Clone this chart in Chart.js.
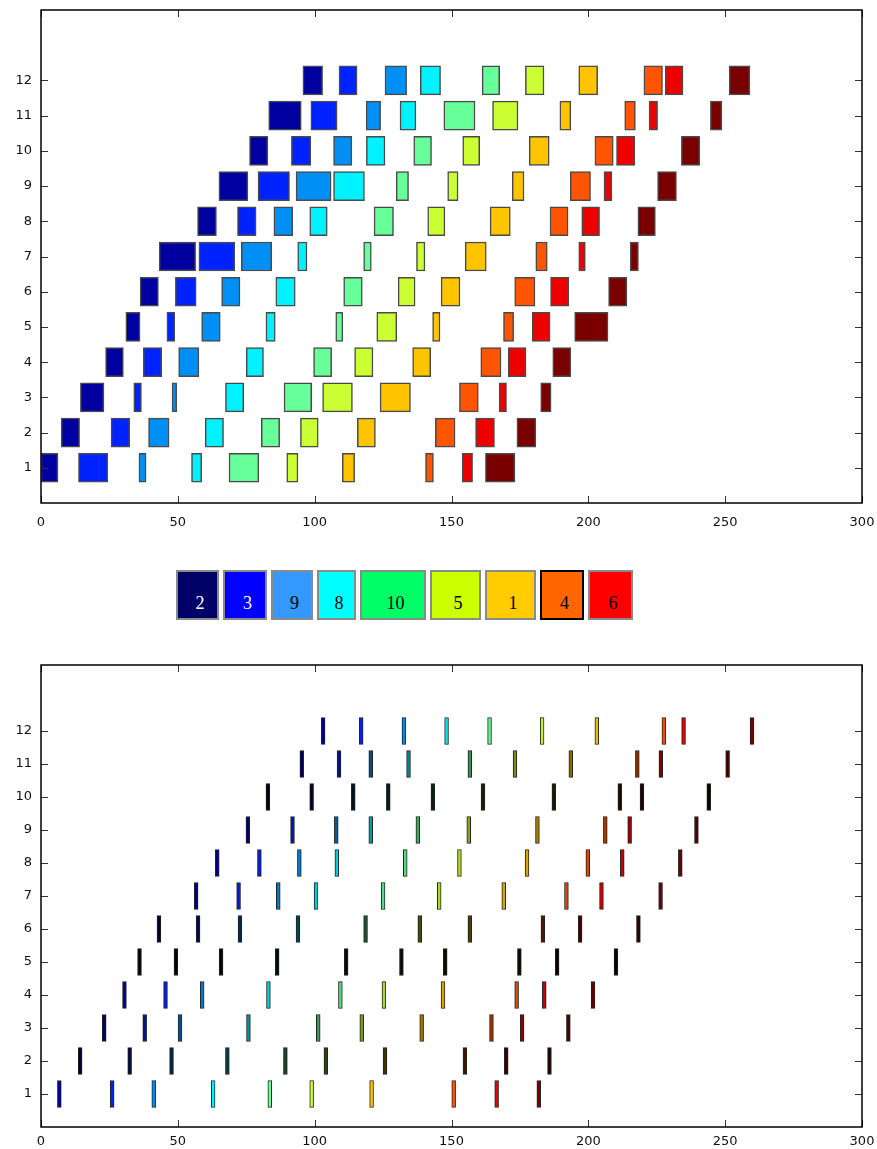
<!DOCTYPE html>
<html>
<head>
<meta charset="utf-8">
<script src="https://cdn.jsdelivr.net/npm/chart.js@4.4.1/dist/chart.umd.min.js"></script>
<style>
    body { margin: 0; background: #fff; }
    #lienzo { position: relative; width: 877px; height: 1149px; }
    canvas { position: absolute; left: 0; }
    #leyenda { position: absolute; left: 176px; top: 570px; display: flex; gap: 4px; }
    .caja {
        height: 50px; box-sizing: border-box; border: 2px solid #8a8a8a;
        font: 18px "Liberation Serif", "DejaVu Serif", serif;
        text-align: center; line-height: 62px; overflow: hidden; padding-left: 5px;
    }
</style>
</head>
<body>
<div id="lienzo">
    <canvas id="graficaArriba" width="877" height="540" style="top:0"></canvas>
    <div id="leyenda"></div>
    <canvas id="graficaAbajo" width="877" height="529" style="top:620px"></canvas>
</div>
<script>
//Filas (trabajos) y marcas de los ejes
const filas = [1, 2, 3, 4, 5, 6, 7, 8, 9, 10, 11, 12];
const ticksX = [0, 50, 100, 150, 200, 250, 300];

//Colores de las 10 operaciones de cada fila
const colores = ['#0000a0', '#0022ff', '#0090f5', '#00f2ff', '#66ff99',
                 '#ccff33', '#ffc400', '#ff5500', '#ee0000', '#7a0000'];

//Gráfica de arriba: [inicio, fin] de cada operación, una lista por fila
const barrasArriba = [
    [[0,6.2],[13.7,24.4],[35.8,38.4],[55,58.7],[68.7,79.6],[89.8,93.9],[110.1,114.6],[140.5,143.4],[153.9,157.7],[162.4,173.2]],
    [[7.4,14.1],[25.6,32.4],[39.3,46.8],[60,66.7],[80.5,87.2],[94.8,101.3],[115.6,122.2],[144.1,151.3],[158.8,165.7],[173.9,180.8]],
    [[14.4,23],[33.9,36.7],[47.9,49.6],[67.4,74.1],[88.8,98.9],[102.9,113.8],[123.9,135],[152.9,159.8],[167.4,170.1],[182.6,186.4]],
    [[23.6,30.1],[37.4,44.1],[50.3,57.7],[75,81.3],[99.6,106.2],[114.6,121.3],[135.8,142.4],[160.7,168.1],[170.7,177.2],[187,193.6]],
    [[31,36.2],[46,48.9],[58.7,65.5],[82.2,85.6],[107.7,110.3],[122.7,130],[143.1,145.8],[169,172.7],[179.5,186],[195,207.2]],
    [[36.2,42.9],[49.1,56.7],[66,72.7],[85.8,92.9],[110.6,117.4],[130.5,136.7],[146.2,153.1],[173.1,180.5],[186.2,192.9],[207.4,214.1]],
    [[43.2,56.5],[57.7,70.8],[73.2,84.3],[93.8,97.2],[117.9,120.7],[137.2,140.3],[155,162.7],[180.8,185],[196.5,198.9],[215.3,218.3]],
    [[57.2,64.1],[71.8,78.6],[85.1,92],[98.2,104.6],[121.7,128.8],[141.3,147.6],[164.1,171.5],[186,192.6],[197.6,204.1],[218.1,224.5]],
    [[65,75.6],[79.3,90.8],[93.2,106],[106.9,118.2],[129.8,134.3],[148.6,152.4],[172.2,176.5],[193.4,200.8],[205.7,208.6],[225.3,232.2]],
    [[76.2,82.9],[91.5,98.6],[106.9,113.6],[118.9,125.7],[136.2,142.7],[154.1,160.3],[178.4,185.7],[202.4,209.1],[210.3,217],[234,240.7]],
    [[83.2,95.1],[98.6,108.2],[118.8,124.1],[131.2,137],[147.2,158.6],[165,174.3],[189.6,193.6],[213.3,217.2],[222.2,225.3],[244.6,248.8]],
    [[95.7,102.9],[108.9,115.5],[125.7,133.6],[138.6,146],[161.2,167.6],[177,183.8],[196.5,203.4],[220.3,227.1],[228.1,234.6],[251.5,259]]
];

//Gráfica de abajo: centro de cada marca delgada, una lista por fila
const marcasAbajo = [
    [6.7, 26.0, 41.2, 62.9, 83.6, 98.9, 120.8, 150.8, 166.5, 181.9],
    [14.3, 32.4, 47.7, 68.1, 89.3, 104.1, 125.7, 154.9, 170.0, 185.8],
    [23.1, 37.9, 50.8, 75.8, 101.3, 117.2, 139.1, 164.6, 175.8, 192.7],
    [30.5, 45.5, 58.9, 83.1, 109.4, 125.3, 146.9, 173.8, 183.9, 201.7],
    [36.0, 49.3, 65.8, 86.3, 111.5, 131.7, 147.7, 174.8, 188.6, 210.1],
    [43.1, 57.4, 72.7, 93.9, 118.6, 138.4, 156.7, 183.4, 197.0, 218.3],
    [56.7, 72.2, 86.7, 100.5, 125.0, 145.5, 169.1, 192.0, 204.8, 226.4],
    [64.4, 79.8, 94.4, 108.1, 133.1, 152.9, 177.6, 199.8, 212.4, 233.6],
    [75.6, 91.9, 107.9, 120.5, 137.7, 156.3, 181.4, 206.2, 215.1, 239.5],
    [82.9, 98.9, 114.1, 126.9, 143.2, 161.5, 187.4, 211.5, 219.6, 244.0],
    [95.3, 108.9, 120.5, 134.3, 156.7, 173.2, 193.6, 217.9, 226.5, 250.9],
    [103.1, 117.0, 132.6, 148.2, 163.9, 183.1, 203.1, 227.6, 234.8, 259.8]
];

//Qué tan intenso se ve el color de las marcas en cada fila (1 = color pleno)
const intensidadFila = [1, 0.25, 0.6, 0.85, 0.05, 0.3, 0.85, 0.85, 0.65, 0.12, 0.55, 0.95];

//Leyenda del centro
const leyendaEtiquetas = ['2', '3', '9', '8', '10', '5', '1', '4', '6'];
const leyendaColores = ['#000066', '#0000ff', '#3399ff', '#00ffff', '#00ff66',
                        '#ccff00', '#ffcc00', '#ff6600', '#ff0000'];

//Estilos (no son datos)
const anchoMarca = 1.4;
const anchosCaja = [43, 44, 42, 39, 66, 51, 51, 44, 45];
const fuenteEjes = { family: 'DejaVu Sans', size: 13 };

//Oscurecer un color hex multiplicando por un factor
function oscurecer(hex, f) {
    const n = parseInt(hex.slice(1), 16);
    const r = Math.round(((n >> 16) & 255) * f);
    const g = Math.round(((n >> 8) & 255) * f);
    const b = Math.round((n & 255) * f);
    return `rgb(${r},${g},${b})`;
}

//Plugin para el marco y las marcas hacia adentro (estilo MATLAB)
const marcoPlugin = {
    id: 'marco',
    afterDraw(chart) {
        const { ctx, chartArea: a, scales } = chart;
        const linea = (x1, y1, x2, y2) => {
            ctx.beginPath(); ctx.moveTo(x1, y1); ctx.lineTo(x2, y2); ctx.stroke();
        };
        ctx.save();
        ctx.strokeStyle = '#333';
        ctx.lineWidth = 1;
        scales.x.ticks.forEach(t => {
            const px = Math.round(scales.x.getPixelForValue(t.value)) + 0.5;
            linea(px, a.bottom, px, a.bottom - 7);
            linea(px, a.top, px, a.top + 7);
        });
        scales.y.ticks.forEach(t => {
            const py = Math.round(scales.y.getPixelForValue(t.value)) + 0.5;
            linea(a.left, py, a.left + 7, py);
            linea(a.right, py, a.right - 7, py);
        });
        ctx.strokeStyle = '#000';
        ctx.lineWidth = 1.5;
        ctx.strokeRect(a.left, a.top, a.right - a.left, a.bottom - a.top);
        ctx.restore();
    }
};

//Quitar el relleno automático que Chart.js agrega por las etiquetas
function sinRelleno(s) {
    s.paddingLeft = 0; s.paddingRight = 0;
    s.paddingTop = 0; s.paddingBottom = 0;
}

//Opciones comunes de las dos gráficas
function opciones(altoEjeX, relleno, paddingX) {
    return {
        indexAxis: 'y',
        responsive: false,
        animation: false,
        events: [],
        layout: { padding: { top: relleno, right: 15, left: 0, bottom: 0 } },
        plugins: { legend: { display: false }, tooltip: { enabled: false } },
        scales: {
            x: {
                type: 'linear', min: 0, max: 300, offset: false,
                grid: { display: false, drawTicks: false },
                border: { display: false },
                afterBuildTicks: s => { s.ticks = ticksX.map(v => ({ value: v })); },
                afterFit: s => { s.height = altoEjeX; sinRelleno(s); },
                ticks: { padding: paddingX, color: '#111', font: fuenteEjes }
            },
            y: {
                type: 'linear', min: 0, max: 14, offset: false,
                grid: { display: false, drawTicks: false },
                border: { display: false },
                afterBuildTicks: s => { s.ticks = filas.map(v => ({ value: v })); },
                afterFit: s => { s.width = 41; sinRelleno(s); },
                ticks: { padding: 9, color: '#111', font: fuenteEjes }
            }
        }
    };
}

//Crear gráfica de arriba (barras flotantes)
new Chart(document.getElementById('graficaArriba'), {
    type: 'bar',
    data: {
        datasets: colores.map((color, k) => ({
            data: filas.map((f, i) => ({ y: f, x: barrasArriba[i][k] })),
            backgroundColor: color,
            borderColor: '#4a4a4a',
            borderWidth: 1.5,
            borderSkipped: false,
            barThickness: 29,
            grouped: false
        }))
    },
    options: opciones(37, 10, 12),
    plugins: [marcoPlugin]
});

//Crear gráfica de abajo (marcas delgadas)
new Chart(document.getElementById('graficaAbajo'), {
    type: 'bar',
    data: {
        datasets: colores.map((color, k) => ({
            data: filas.map((f, i) => ({
                y: f,
                x: [marcasAbajo[i][k] - anchoMarca / 2, marcasAbajo[i][k] + anchoMarca / 2]
            })),
            backgroundColor: filas.map((f, i) => oscurecer(color, intensidadFila[i])),
            borderColor: '#222',
            borderWidth: 1,
            borderSkipped: false,
            barThickness: 27,
            grouped: false
        }))
    },
    options: opciones(22, 45, 7),
    plugins: [marcoPlugin]
});

//Armar la leyenda del centro
const leyenda = document.getElementById('leyenda');
leyendaEtiquetas.forEach((txt, i) => {
    const caja = document.createElement('div');
    caja.className = 'caja';
    caja.style.width = anchosCaja[i] + 'px';
    caja.style.background = leyendaColores[i];
    caja.style.color = i < 2 ? '#fff' : '#000';
    if (txt === '4') caja.style.borderColor = '#000';
    caja.textContent = txt;
    leyenda.appendChild(caja);
});
</script>
</body>
</html>
